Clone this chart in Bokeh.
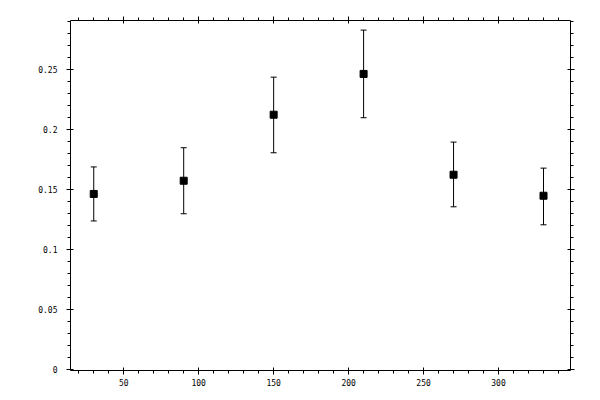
from bokeh.plotting import figure
from bokeh.models import (ColumnDataSource, Range1d, SingleIntervalTicker, LinearAxis,
                          Whisker, TeeHead, CustomJSTickFormatter, CustomLabelingPolicy)
from bokeh.embed import file_html
from bokeh.resources import INLINE

# data
angles = [30, 90, 150, 210, 270, 330]
values = [0.1465, 0.1575, 0.2125, 0.2465, 0.1625, 0.1450]
upper_err = [0.169, 0.185, 0.2438, 0.283, 0.1897, 0.168]
lower_err = [0.124, 0.130, 0.1808, 0.210, 0.1358, 0.1208]

src = ColumnDataSource(dict(x=angles, y=values, upper=upper_err, lower=lower_err))

p = figure(frame_width=500, frame_height=350, output_backend="svg", toolbar_location=None,
           x_range=Range1d(14.5, 348), y_range=Range1d(-0.0006, 0.2910),
           x_axis_location=None, y_axis_location=None,
           min_border_left=70, min_border_right=22, min_border_top=20, min_border_bottom=22)
p.outline_line_color = None
p.xgrid.visible = False
p.ygrid.visible = False
p.background_fill_color = "white"
p.border_fill_color = "white"

yfmt = CustomJSTickFormatter(code="return String(Math.round(tick*100)/100);")
hide = CustomLabelingPolicy(code="for (const i of [...indices]) { indices.unset(i) } return indices;")

def style(ax, labels=True):
    ax.axis_line_color = "black"
    ax.axis_line_width = 1
    ax.major_tick_line_color = "black"
    ax.minor_tick_line_color = "black"
    ax.major_tick_in = 3
    ax.major_tick_out = 4
    ax.minor_tick_in = 0
    ax.minor_tick_out = 3
    ax.major_label_text_font = "DejaVu Sans Mono"
    ax.major_label_text_font_size = "8px"
    ax.major_label_text_color = "black"
    if not labels:
        ax.major_label_policy = hide

xb = LinearAxis(ticker=SingleIntervalTicker(interval=50, num_minor_ticks=5))
style(xb)
xb.major_label_standoff = 4
xt = LinearAxis(ticker=SingleIntervalTicker(interval=50, num_minor_ticks=5))
style(xt, labels=False)
yl = LinearAxis(ticker=SingleIntervalTicker(interval=0.05, num_minor_ticks=5), formatter=yfmt)
style(yl)
yl.major_label_standoff = 9
yr = LinearAxis(ticker=SingleIntervalTicker(interval=0.05, num_minor_ticks=5))
style(yr, labels=False)

p.add_layout(xb, "below")
p.add_layout(xt, "above")
p.add_layout(yl, "left")
p.add_layout(yr, "right")

w = Whisker(base="x", upper="upper", lower="lower", source=src,
            line_color="black", line_width=1,
            upper_head=TeeHead(size=6, line_color="black", line_width=1),
            lower_head=TeeHead(size=6, line_color="black", line_width=1))
p.add_layout(w)
p.scatter("x", "y", source=src, marker="square", size=7, fill_color="black", line_color="black")

open("out.html", "w").write(file_html(p, INLINE))
